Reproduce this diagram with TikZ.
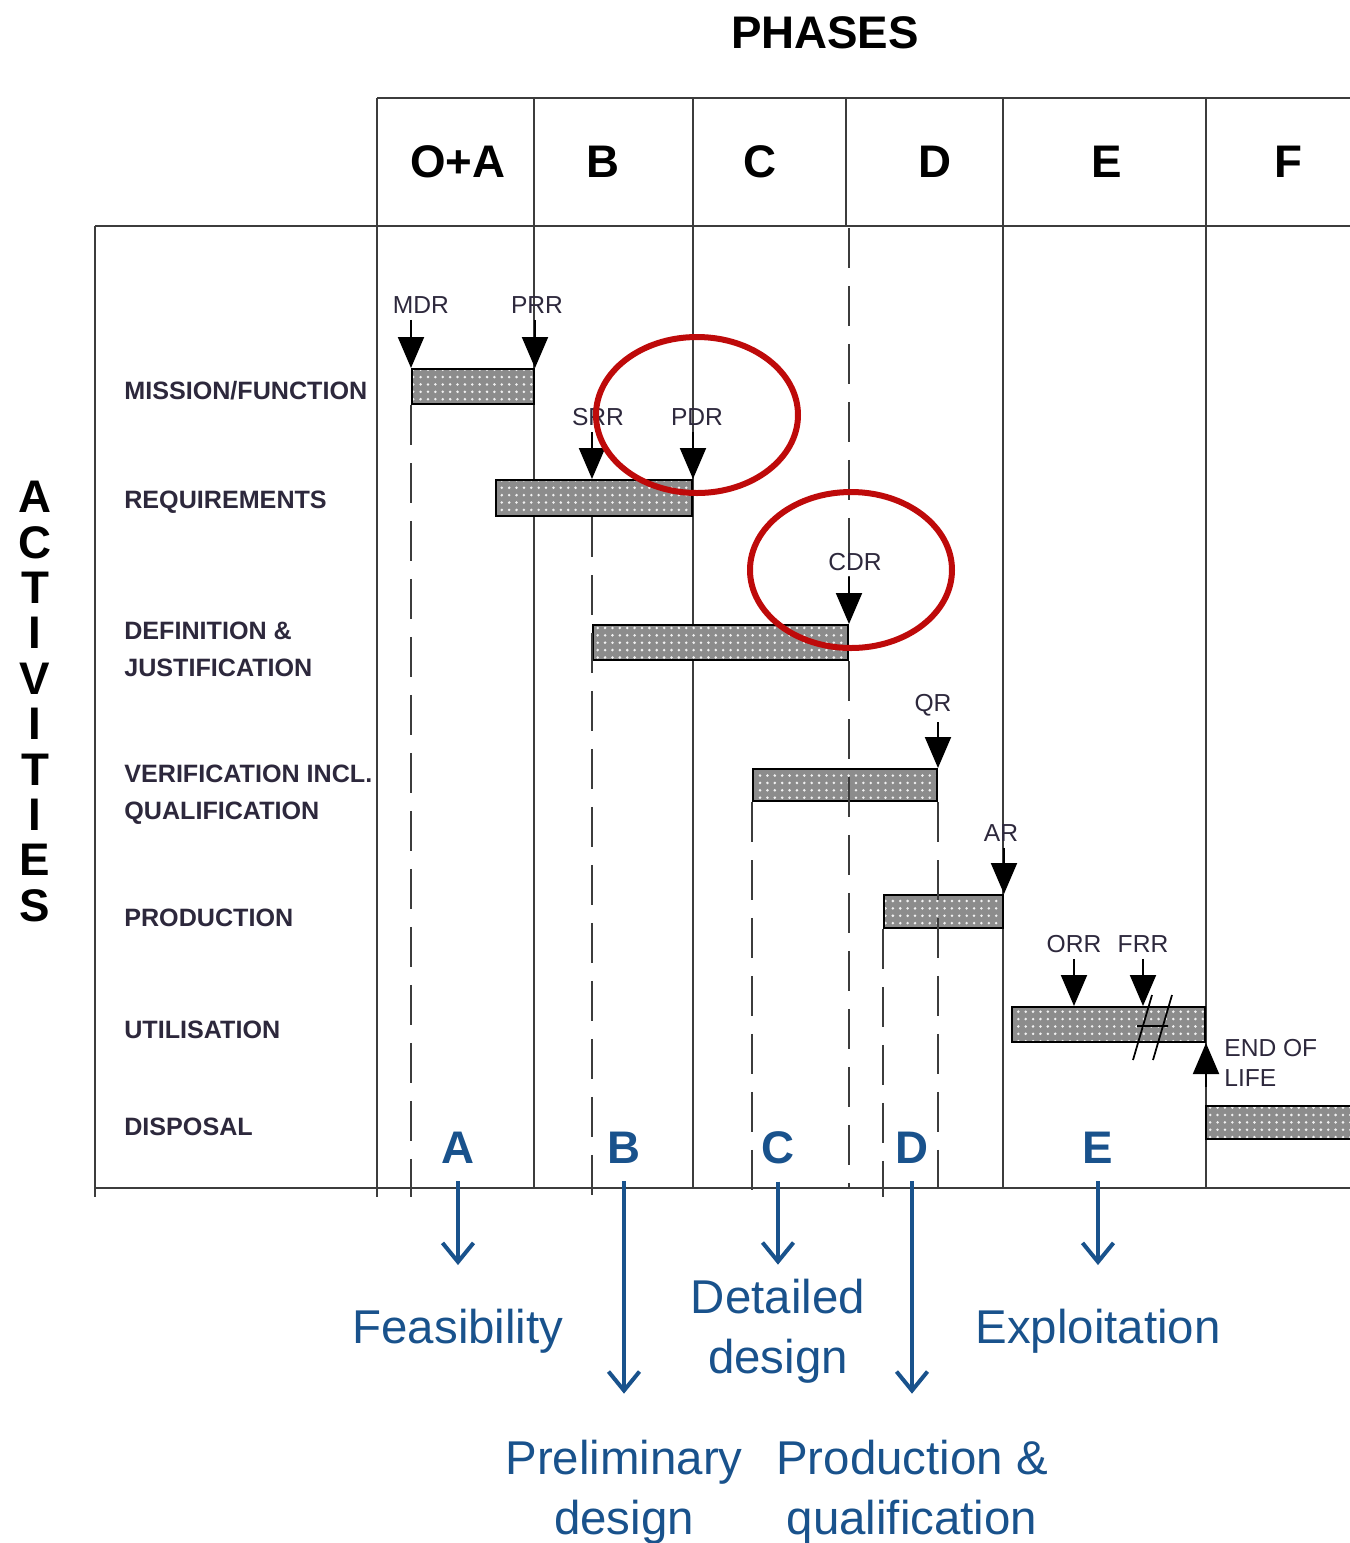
\documentclass[tikz,border=0pt]{standalone}
\usepackage{fontspec}
\setmainfont{Liberation Sans}
\usetikzlibrary{arrows.meta, positioning, fit, patterns.meta}
\definecolor{gridgray}{RGB}{60, 60, 60}
\definecolor{bargray}{RGB}{140, 140, 140}
\definecolor{actdark}{RGB}{45, 40, 60}
\definecolor{ringred}{RGB}{190, 10, 10}
\definecolor{phaseblue}{RGB}{25, 82, 140}

\begin{document}
\begin{tikzpicture}[
    x=0.02cm, y=-0.02cm,
    grid/.style={draw=gridgray, line width=0.05cm},
    guide/.style={draw=gridgray, line width=0.05cm, dash pattern=on 0.8cm off 0.36cm},
    barbox/.style={
        draw=black, line width=0.04cm, inner sep=0pt,
        preaction={fill=bargray},
        pattern={Dots[distance=4.2pt, radius=0.8pt]}, pattern color=white!90!gray
    },
    milestone/.style={draw=black, line width=0.04cm, shorten <=0.12cm,
        -{Triangle[length=0.62cm, width=0.52cm]}},
    mslabel/.style={font=\fontsize{14}{17}\selectfont, text=actdark, inner sep=0pt},
    actlabel/.style={font=\fontsize{14.3}{21}\selectfont\bfseries, text=actdark,
        anchor=west, align=left, inner sep=0pt},
    phasehead/.style={font=\fontsize{26}{30}\selectfont\bfseries, inner sep=0pt},
    ring/.style={draw=ringred, line width=0.12cm},
    bigletter/.style={font=\fontsize{26}{30}\selectfont\bfseries, text=phaseblue, inner sep=0pt},
    bluetext/.style={font=\fontsize{27}{34}\selectfont, text=phaseblue, align=center, inner sep=0pt},
    phasearrow/.style={draw=phaseblue, line width=0.08cm,
        -{Straight Barb[length=0.38cm, width=0.62cm]}}
]
    \useasboundingbox (0,0) rectangle (1350,1543);

    % frame of the chart
    \coordinate (top2) at (95,228);
    \coordinate (bot) at (95,1188);
    \coordinate (bl) at (95,1197);
    \draw[grid] (377,98) -- (1360,98);
    \draw[grid] (95,226) -- (1360,226);
    \draw[grid] (95,226) -- (95,1197);
    \draw[grid] (95,1188) -- (1360,1188);
    \draw[grid] (377,98) -- (377,1197);
    \foreach \xx in {534,693,1003,1206}
        \draw[grid] (\xx,98) -- (\xx,1188);
    \draw[grid] (846,98) -- (846,226);

    \node[phasehead] (phases) at (825,33) {PHASES};
    \node[phasehead] (phoa) at (458,162) {O+A};
    \node[phasehead] (phb)  at (603,162) {B};
    \node[phasehead] (phc)  at (760,162) {C};
    \node[phasehead] (phd)  at (935,162) {D};
    \node[phasehead] (phe)  at (1107,162) {E};
    \node[phasehead] (phf)  at (1288,162) {F};

    \foreach \ch [count=\i] in {A,C,T,I,V,I,T,I,E,S}
        \node[phasehead] (act\i) at (35,{497+45.4*(\i-1)}) {\ch};

    % activities
    \node[actlabel] (missionl) at (124,391) {MISSION/FUNCTION};
    \node[actlabel] (reql)     at (124,502) {REQUIREMENTS};
    \node[actlabel] (defl)     at (124,649.5) {DEFINITION \&\\JUSTIFICATION};
    \node[actlabel] (verl)     at (124,794.5) {VERIFICATION INCL.\\QUALIFICATION};
    \node[actlabel] (prodl)    at (124,918) {PRODUCTION};
    \node[actlabel] (utill)    at (124,1030) {UTILISATION};
    \node[actlabel] (displ)    at (124,1127) {DISPOSAL};

    % bars
    \node[barbox, fit={(412,369) (534,404)}]   (mission) {};
    \node[barbox, fit={(496,480) (692,516)}]   (requirements) {};
    \node[barbox, fit={(593,625) (848,660)}]   (definition) {};
    \node[barbox, fit={(753,769) (937,801)}]   (verification) {};
    \node[barbox, fit={(884,895) (1003,928)}]  (production) {};
    \node[barbox, fit={(1012,1007) (1205,1042)}] (utilisation) {};
    \node[barbox, fit={(1206,1106) (1365,1139)}] (disposal) {};

    % dashed guides
    \draw[guide] (mission.south west) -- (mission.south west |- bl);
    \draw[guide] (definition.north west |- requirements.south) -- (definition.north west |- bl);
    \draw[guide] (definition.north east |- top2) -- (definition.north east);
    \draw[guide] (definition.south east) -- (definition.south east |- bot);
    \draw[guide] (verification.south west) -- (verification.south west |- bl);
    \draw[guide] (verification.south east) -- (verification.south east |- bot);
    \draw[guide] (production.south west) -- (production.south west |- bl);

    % milestones
    \node[mslabel] (mdr) at (421,305) {MDR};
    \node[mslabel] (prr) at (537,305) {PRR};
    \node[mslabel] (srr) at (598,417) {SRR};
    \node[mslabel] (pdr) at (697,417) {PDR};
    \node[mslabel] (cdr) at (855,562) {CDR};
    \node[mslabel] (qr)  at (933,705) {QR};
    \node[mslabel] (ar)  at (1001,833) {AR};
    \node[mslabel] (orr) at (1074,944) {ORR};
    \node[mslabel] (frr) at (1143,944) {FRR};
    \node[mslabel, align=left, anchor=west] (eol) at (1224,1063) {END OF\\LIFE};

    \draw[milestone] (mdr.south -| mission.north west) -- (mission.north west);
    \draw[milestone] (prr.south -| mission.north east) -- (mission.north east);
    \draw[milestone] (srr.south -| definition.north west) -- (definition.north west |- requirements.north);
    \draw[milestone] (pdr.south -| requirements.north east) -- (requirements.north east);
    \draw[milestone] (cdr.south -| definition.north east) -- (definition.north east);
    \draw[milestone] (qr.south -| verification.north east) -- (verification.north east);
    \draw[milestone] (ar.south -| production.north east) -- (production.north east);
    \draw[milestone] (orr.south) -- (orr.south |- utilisation.north);
    \draw[milestone] (frr.south) -- (frr.south |- utilisation.north);
    \draw[milestone, shorten <=0pt] (utilisation.south east |- eol.south) -- (utilisation.south east);

    % break in the utilisation bar
    \draw[black, line width=0.035cm] (1133,1060) -- (1152,995) (1153,1060) -- (1172,995)
        (1137,1026) -- (1168,1026);

    % highlighted reviews
    \draw[ring] (697,415) ellipse [x radius=101, y radius=78];
    \draw[ring] (851,570) ellipse [x radius=101, y radius=78];

    % phase meanings
    \node[bigletter] (la) at (458,1148) {A};
    \node[bigletter] (lb) at (624,1148) {B};
    \node[bigletter] (lc) at (778,1148) {C};
    \node[bigletter] (ld) at (912,1148) {D};
    \node[bigletter] (le) at (1098,1148) {E};

    \node[bluetext] (feas)   at (458,1331) {Feasibility};
    \node[bluetext] (prel)   at (624,1492) {Preliminary\\design};
    \node[bluetext] (detail) at (778,1331) {Detailed\\design};
    \node[bluetext] (prodq)  at (912,1492) {Production \&\\qualification};
    \node[bluetext] (expl)   at (1098,1331) {Exploitation};

    \draw[phasearrow, shorten <=0.34cm, shorten >=0.87cm] (la) -- (feas);
    \draw[phasearrow, shorten <=0.34cm, shorten >=0.92cm] (lb) -- (prel);
    \draw[phasearrow, shorten <=0.34cm, shorten >=0.28cm] (lc) -- (detail);
    \draw[phasearrow, shorten <=0.34cm, shorten >=0.92cm] (ld) -- (prodq);
    \draw[phasearrow, shorten <=0.34cm, shorten >=0.87cm] (le) -- (expl);
\end{tikzpicture}
\end{document}
